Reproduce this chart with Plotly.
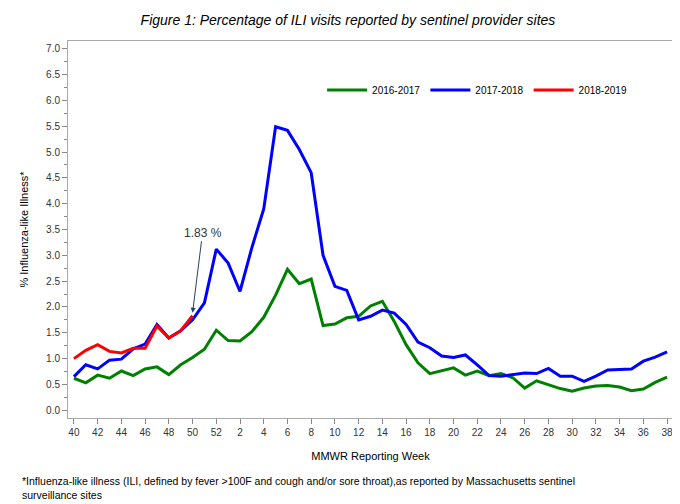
import plotly.graph_objects as go

weeks = [str(w) for w in list(range(40, 53)) + list(range(1, 39))]

ili_2016 = [0.62, 0.53, 0.68, 0.62, 0.76, 0.67, 0.80, 0.84, 0.69, 0.88, 1.02, 1.18, 1.55,
            1.35, 1.34, 1.52, 1.80, 2.23, 2.73, 2.45, 2.54, 1.64, 1.67, 1.79, 1.82, 2.02, 2.11,
            1.72, 1.27, 0.92, 0.71, 0.76, 0.82, 0.68, 0.76, 0.67, 0.71, 0.63, 0.43, 0.57, 0.50,
            0.42, 0.37, 0.43, 0.47, 0.48, 0.45, 0.38, 0.41, 0.54, 0.64]
ili_2017 = [0.65, 0.88, 0.80, 0.97, 0.99, 1.19, 1.28, 1.66, 1.40, 1.54, 1.75, 2.08, 3.12,
            2.85, 2.30, 3.15, 3.90, 5.49, 5.42, 5.05, 4.60, 3.00, 2.40, 2.32, 1.75, 1.82, 1.94,
            1.88, 1.66, 1.32, 1.21, 1.05, 1.02, 1.07, 0.88, 0.67, 0.66, 0.69, 0.72, 0.71, 0.81,
            0.66, 0.66, 0.56, 0.66, 0.78, 0.79, 0.80, 0.95, 1.03, 1.13]
ili_2018 = [1.00, 1.16, 1.27, 1.14, 1.11, 1.20, 1.20, 1.63, 1.40, 1.54, 1.83]

fig = go.Figure()
fig.add_trace(go.Scatter(x=weeks, y=ili_2016, name="2016-2017", mode="lines",
                         line=dict(color="#008000", width=3)))
fig.add_trace(go.Scatter(x=weeks, y=ili_2017, name="2017-2018", mode="lines",
                         line=dict(color="#0000FF", width=3)))
fig.add_trace(go.Scatter(x=weeks[:len(ili_2018)], y=ili_2018, name="2018-2019", mode="lines",
                         line=dict(color="#FF0000", width=3)))

# latest point of current season, index of week 50 on the category axis
last = len(ili_2018) - 1
fig.add_annotation(x=last, y=ili_2018[last], text="1.83 %", showarrow=True, arrowhead=2,
                   arrowsize=1, arrowwidth=1, ax=10, ay=-80, yshift=3,
                   font=dict(size=12, color="#333"))

fig.update_layout(
    width=680, height=504,
    paper_bgcolor="white", plot_bgcolor="white",
    font=dict(family="Arial, Liberation Sans, sans-serif", size=10, color="#333"),
    margin=dict(l=60, r=15, t=33, b=94),
    title=dict(text="<i>Figure 1: Percentage of ILI visits reported by sentinel provider sites</i>",
               x=0.5, xanchor="center", y=0.985, yanchor="top",
               font=dict(size=14, color="black")),
    legend=dict(orientation="h", x=0.42, y=0.87, xanchor="left", yanchor="middle",
                font=dict(size=10, color="black"), itemwidth=40),
    xaxis=dict(type="category", tickmode="array", tickvals=weeks[::2], ticktext=weeks[::2],
               showline=True, linecolor="#aaa", mirror=True, ticks="outside", ticklen=5,
               tickcolor="#888", showgrid=False, range=[-0.5, 50.5],
               title=dict(text="MMWR Reporting Week", font=dict(size=11, color="black"))),
    yaxis=dict(range=[-0.15, 7.15], tickvals=[i * 0.5 for i in range(15)],
               tickformat=".1f", showline=True, linecolor="#aaa", mirror=True,
               ticks="outside", ticklen=5, tickcolor="#888", showgrid=False, zeroline=False,
               minor=dict(dtick=0.25, ticks="outside", ticklen=3, tickcolor="#888"),
               title=dict(text="% Influenza-like Illness*", font=dict(size=11, color="black"))),
)

fig.add_annotation(xref="paper", yref="paper", x=-0.08, y=-0.145, xanchor="left", yanchor="top",
                   align="left", showarrow=False,
                   text="*Influenza-like illness (ILI, defined by fever >100F and cough and/or sore throat),as reported by Massachusetts sentinel<br>surveillance sites",
                   font=dict(size=10.5, color="black"))

fig.write_html("out.html")
